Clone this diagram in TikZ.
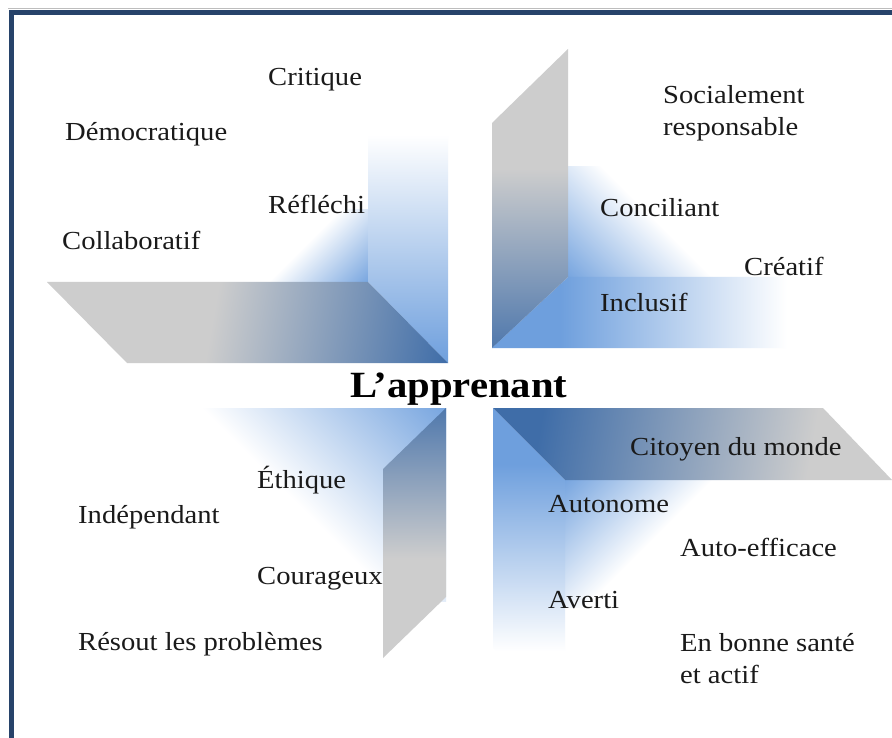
\documentclass[tikz,border=0pt]{standalone}
\usepackage{fontspec}
\setmainfont{Liberation Serif}[FakeStretch=1.1]
\definecolor{dblue}{HTML}{3F6DA8}
\definecolor{lblue}{HTML}{6E9FDD}
\definecolor{pgray}{HTML}{CDCDCD}
\definecolor{navy}{HTML}{27436A}
\definecolor{ink}{HTML}{1A1A1A}
\definecolor{rulegray}{HTML}{BDBDBD}
\pgfdeclarehorizontalshading{graytoblue}{100bp}{color(0bp)=(pgray); color(45bp)=(pgray); color(79bp)=(dblue); color(100bp)=(dblue)}
\pgfdeclarehorizontalshading{graytoblueshort}{100bp}{color(0bp)=(pgray); color(33bp)=(pgray); color(72bp)=(dblue); color(100bp)=(dblue)}
\pgfdeclarehorizontalshading{bluefade}{100bp}{color(0bp)=(lblue); color(34bp)=(lblue); color(64bp)=(white); color(100bp)=(white)}
\pgfdeclarehorizontalshading{bluefadesoft}{100bp}{color(0bp)=(lblue); color(25bp)=(lblue); color(60bp)=(white); color(100bp)=(white)}
\pgfdeclarehorizontalshading{cornerfade}{100bp}{color(0bp)=(white); color(50bp)=(white); color(88bp)=(lblue); color(100bp)=(lblue)}
\tikzset{
  lbl/.style={anchor=base west, inner sep=0pt, text=ink, font=\fontsize{26}{32}\selectfont},
  title/.style={anchor=base west, inner sep=0pt, text=black, font=\fontsize{37}{44}\selectfont\bfseries},
  frame/.style={draw=navy, line width=5pt},
}
\begin{document}
\begin{tikzpicture}[x=1pt,y=-1pt]
\useasboundingbox (0,0) rectangle (892,738);
\fill[white] (0,0) rectangle (892,738);
% frame
\draw[rulegray, line width=1pt] (8,9) -- (892,9);
\draw[frame] (11.5,738) -- (11.5,12.5) -- (892,12.5);

% ---- top-left quadrant
\shade[shading=cornerfade, shading angle=-45] (240,210) rectangle (368,282);
\shade[shading=bluefadesoft, shading angle=90] (368,37) -- (448,117) -- (448,363) -- (368,282) -- cycle;
\shade[shading=graytoblue, shading angle=-10] (47,282) -- (368,282) -- (448,363) -- (127,363) -- cycle;

% ---- top-right quadrant
\shade[shading=cornerfade, shading angle=-135] (568,167) rectangle (747,277);
\shade[shading=bluefade, shading angle=0] (492,348) -- (568,277) -- (870,277) -- (794,348) -- cycle;
\shade[shading=graytoblue, shading angle=-90] (492,123) -- (568,49) -- (568,277) -- (492,348) -- cycle;

% ---- bottom-left quadrant
\shade[shading=cornerfade, shading angle=45] (150,408) rectangle (446,601);
\shade[shading=graytoblue, shading angle=90] (383,469) -- (446,408) -- (446,597) -- (383,658) -- cycle;

% ---- bottom-right quadrant
\shade[shading=cornerfade, shading angle=135] (565,480) rectangle (733,607);
\shade[shading=bluefade, shading angle=-90] (493,408) -- (565,480) -- (565,720) -- (493,648) -- cycle;
\shade[shading=graytoblueshort, shading angle=170] (493,408) -- (823,408) -- (892,480) -- (565,480) -- cycle;

% ---- labels
\node[lbl] (crit) at (268,86) {Critique};
\node[lbl] (demo) at (65,141) {Démocratique};
\node[lbl] (refl) at (268,214) {Réfléchi};
\node[lbl] (coll) at (62,250) {Collaboratif};
\node[lbl] (soc1) at (663,104) {Socialement};
\node[lbl] (soc2) at (663,136) {responsable};
\node[lbl] (conc) at (600,217) {Conciliant};
\node[lbl] (crea) at (744,276) {Créatif};
\node[lbl] (incl) at (600,312) {Inclusif};
\node[title] (app) at (350,397) {L’apprenant};
\node[lbl] (cit) at (630,455) {Citoyen du monde};
\node[lbl] (eth) at (257,488) {Éthique};
\node[lbl] (ind) at (78,523) {Indépendant};
\node[lbl] (auto) at (548,512) {Autonome};
\node[lbl] (autoeff) at (680,556) {Auto-efficace};
\node[lbl] (cour) at (257,584) {Courageux};
\node[lbl] (aver) at (548,608) {Averti};
\node[lbl] (res) at (78,650) {Résout les problèmes};
\node[lbl] (ebs1) at (680,651) {En bonne santé};
\node[lbl] (ebs2) at (680,683) {et actif};
\end{tikzpicture}
\end{document}
